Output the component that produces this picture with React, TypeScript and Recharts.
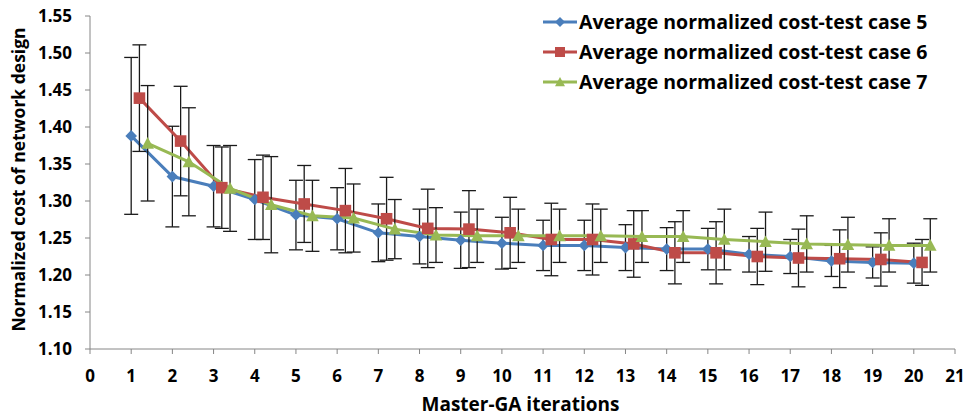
import React from 'react';
import { LineChart, Line, XAxis, YAxis, ErrorBar } from 'recharts';

// ---- Data ----
const iterations = [1, 2, 3, 4, 5, 6, 7, 8, 9, 10, 11, 12, 13, 14, 15, 16, 17, 18, 19, 20];

const case5Mean = [1.388, 1.333, 1.320, 1.302, 1.281, 1.276, 1.257, 1.252, 1.247, 1.243, 1.240, 1.240, 1.237, 1.235, 1.235, 1.228, 1.225, 1.219, 1.217, 1.216];
const case5Err = [0.106, 0.068, 0.055, 0.054, 0.047, 0.042, 0.039, 0.037, 0.038, 0.035, 0.034, 0.034, 0.031, 0.029, 0.028, 0.024, 0.023, 0.021, 0.021, 0.027];

const case6Mean = [1.439, 1.381, 1.318, 1.305, 1.296, 1.287, 1.276, 1.263, 1.262, 1.257, 1.248, 1.248, 1.242, 1.230, 1.230, 1.225, 1.223, 1.222, 1.221, 1.217];
const case6Err = [0.072, 0.074, 0.055, 0.057, 0.052, 0.057, 0.056, 0.053, 0.052, 0.048, 0.049, 0.048, 0.045, 0.042, 0.042, 0.038, 0.039, 0.039, 0.036, 0.031];

const case7Mean = [1.378, 1.353, 1.317, 1.295, 1.280, 1.277, 1.262, 1.254, 1.253, 1.253, 1.253, 1.253, 1.252, 1.252, 1.248, 1.245, 1.242, 1.241, 1.240, 1.240];
const case7Err = [0.078, 0.073, 0.058, 0.065, 0.048, 0.046, 0.040, 0.037, 0.036, 0.036, 0.036, 0.036, 0.035, 0.035, 0.041, 0.040, 0.038, 0.037, 0.036, 0.036];

// x offsets used in the original chart so series do not overlap
const case5Offset = 0;
const case6Offset = 0.2;
const case7Offset = 0.4;

const seriesNames = [
  'Average normalized cost-test case 5',
  'Average normalized cost-test case 6',
  'Average normalized cost-test case 7',
];

const xTicks = [0, 1, 2, 3, 4, 5, 6, 7, 8, 9, 10, 11, 12, 13, 14, 15, 16, 17, 18, 19, 20, 21];
const yTicks = [1.10, 1.15, 1.20, 1.25, 1.30, 1.35, 1.40, 1.45, 1.50, 1.55];

const build = (means: number[], errs: number[], offset: number) =>
  iterations.map((it, i) => ({ x: it + offset, y: means[i], err: errs[i] }));

const data5 = build(case5Mean, case5Err, case5Offset);
const data6 = build(case6Mean, case6Err, case6Offset);
const data7 = build(case7Mean, case7Err, case7Offset);

const BLUE = '#4A7EBB';
const RED = '#BE4B48';
const GREEN = '#98B954';
const FONT = "'Open Sans', sans-serif";

const Diamond = (props: any) => {
  const { cx, cy, fill, size = 5.8 } = props;
  if (cx == null || cy == null) return null;
  return <path d={`M${cx},${cy - size} L${cx + size},${cy} L${cx},${cy + size} L${cx - size},${cy} Z`} fill={fill} />;
};
const Square = (props: any) => {
  const { cx, cy, fill, size = 5.8 } = props;
  if (cx == null || cy == null) return null;
  return <rect x={cx - size} y={cy - size} width={size * 2} height={size * 2} fill={fill} />;
};
const Triangle = (props: any) => {
  const { cx, cy, fill, size = 6.3 } = props;
  if (cx == null || cy == null) return null;
  return <path d={`M${cx},${cy - size} L${cx + size},${cy + size * 0.85} L${cx - size},${cy + size * 0.85} Z`} fill={fill} />;
};

const legendItems = [
  { name: seriesNames[0], color: BLUE, Shape: Diamond },
  { name: seriesNames[1], color: RED, Shape: Square },
  { name: seriesNames[2], color: GREEN, Shape: Triangle },
];

const ChartLegend = () => (
  <div style={{ position: 'absolute', left: 543, top: 7, fontFamily: FONT }}>
    {legendItems.map((it) => (
      <div key={it.name} style={{ display: 'flex', alignItems: 'center', height: 30 }}>
        <svg width={36} height={20} style={{ display: 'block' }}>
          <line x1={0} y1={10} x2={34} y2={10} stroke={it.color} strokeWidth={3} />
          <it.Shape cx={17} cy={10} fill={it.color} size={5} />
        </svg>
        <span style={{ fontSize: 19.5, fontWeight: 700, color: '#000', marginLeft: 0, whiteSpace: 'nowrap', lineHeight: '30px' }}>{it.name}</span>
      </div>
    ))}
  </div>
);

const YTitle = (props: any) => {
  const { viewBox } = props;
  const cx = 18;
  const cy = viewBox.y + viewBox.height / 2 - 3;
  return (
    <text x={cx} y={cy} transform={`rotate(-90, ${cx}, ${cy})`} textAnchor="middle" dominantBaseline="central"
      style={{ fontFamily: FONT, fontSize: 17.5, fontWeight: 700, fill: '#000' }}>
      Normalized cost of network design
    </text>
  );
};

const XTitle = (props: any) => {
  const { viewBox } = props;
  const cx = viewBox.x + viewBox.width / 2 - 2;
  return (
    <text x={cx} y={411} textAnchor="middle"
      style={{ fontFamily: FONT, fontSize: 19, fontWeight: 700, fill: '#000' }}>
      Master-GA iterations
    </text>
  );
};

const tickStyle = { fontFamily: FONT, fontSize: 17, fontWeight: 700, fill: '#000' };

export default function App() {
  return (
    <div style={{ position: 'absolute', left: 0, top: 0, width: 965, height: 416, background: '#fff' }}>
      <LineChart width={965} height={416} margin={{ top: 16, right: 10, bottom: 0, left: 0 }}>
        <XAxis
          type="number"
          dataKey="x"
          domain={[0, 21]}
          ticks={xTicks}
          interval={0}
          allowDataOverflow
          height={67}
          stroke="#868686"
          tickSize={5}
          tickMargin={16}
          tick={tickStyle}
          tickLine={{ stroke: '#868686' }}
          label={<XTitle />}
        />
        <YAxis
          type="number"
          domain={[1.1, 1.55]}
          ticks={yTicks}
          interval={0}
          allowDataOverflow
          width={90}
          stroke="#868686"
          tickSize={5}
          tickMargin={13}
          tick={tickStyle}
          tickLine={{ stroke: '#868686' }}
          tickFormatter={(v: number) => v.toFixed(2)}
          label={<YTitle />}
        />
        <Line data={data5} dataKey="y" stroke={BLUE} strokeWidth={3} isAnimationActive={false}
          dot={<Diamond fill={BLUE} />} activeDot={false} name={seriesNames[0]}>
          <ErrorBar dataKey="err" direction="y" width={7} stroke="#1a1a1a" strokeWidth={1.3} isAnimationActive={false} />
        </Line>
        <Line data={data6} dataKey="y" stroke={RED} strokeWidth={3} isAnimationActive={false}
          dot={<Square fill={RED} />} activeDot={false} name={seriesNames[1]}>
          <ErrorBar dataKey="err" direction="y" width={7} stroke="#1a1a1a" strokeWidth={1.3} isAnimationActive={false} />
        </Line>
        <Line data={data7} dataKey="y" stroke={GREEN} strokeWidth={3} isAnimationActive={false}
          dot={<Triangle fill={GREEN} />} activeDot={false} name={seriesNames[2]}>
          <ErrorBar dataKey="err" direction="y" width={7} stroke="#1a1a1a" strokeWidth={1.3} isAnimationActive={false} />
        </Line>
      </LineChart>
      <ChartLegend />
    </div>
  );
}
